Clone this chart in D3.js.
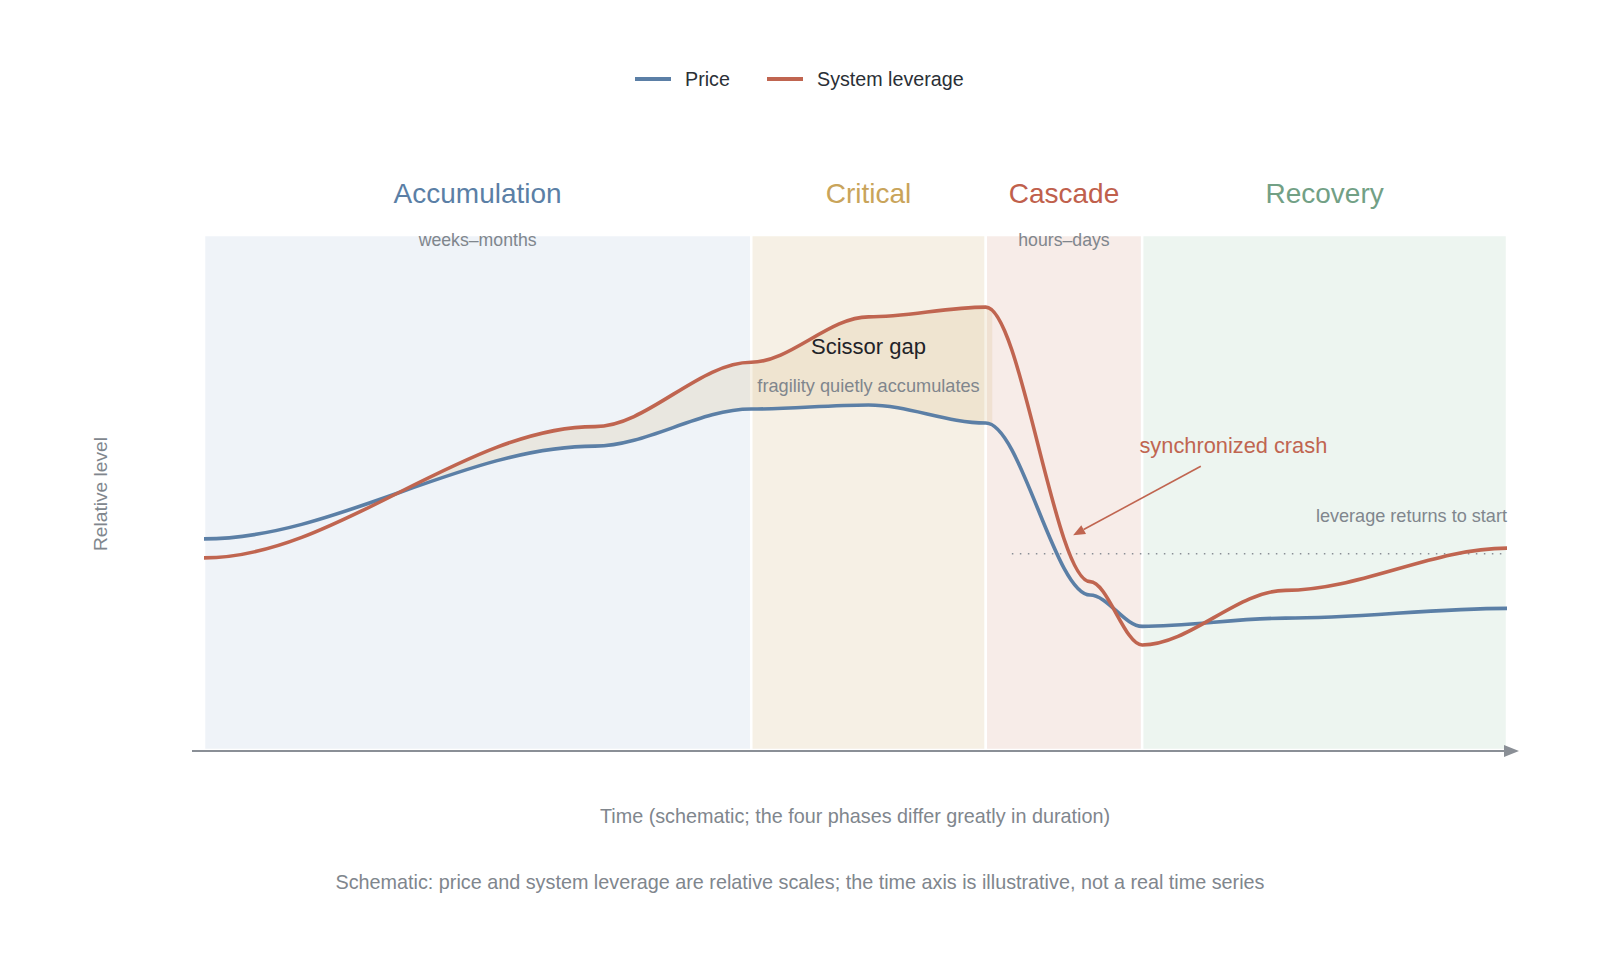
<!DOCTYPE html>
<html>
<head>
<meta charset="utf-8">
<script src="https://cdn.jsdelivr.net/npm/d3@7/dist/d3.min.js"></script>
<style>
  html, body { margin: 0; padding: 0; background: #fff; }
  svg { display: block; font-family: "Helvetica Neue", Helvetica, Arial, "Liberation Sans", sans-serif; }
</style>
</head>
<body>
<svg id="chart" width="1600" height="978"></svg>
<script>
// ---- data ----
const phaseNames = ["Accumulation", "Critical", "Cascade", "Recovery"];
const phaseStart = [0, 42, 60, 72];
const phaseEnd = [42, 60, 72, 100];
const phaseSub = ["weeks–months", "", "hours–days", ""];
const phaseColors = ["#5b7fa6", "#c9a45a", "#c0604c", "#72a085"];
const phaseFills = ["#eff3f8", "#f6f0e5", "#f7ece8", "#edf5f0"];

const time = [0, 30, 42, 51, 60, 68, 72, 83, 100];
const price = [41, 59, 66.2, 67, 63.5, 30.1, 24, 25.6, 27.5];
const leverage = [37.3, 62.8, 75.3, 84.1, 86, 32.7, 20.4, 31, 39.2];
const seriesNames = ["Price", "System leverage"];
const seriesColors = ["#5b7fa6", "#c06550"];

const gapRange = [14.7, 60.5];
const startLevel = 38.1;
const returnLineStart = 62;

// ---- smooth curve with flat tangents at each point (cubic Hermite, zero slopes) ----
function FlatHermite(context) { this._context = context; }
FlatHermite.prototype = {
  areaStart() { this._line = 0; },
  areaEnd() { this._line = NaN; },
  lineStart() { this._point = 0; },
  lineEnd() {
    if (this._line || (this._line !== 0 && this._point === 1)) this._context.closePath();
    this._line = 1 - this._line;
  },
  point(px, py) {
    px = +px; py = +py;
    if (this._point === 0) {
      this._point = 1;
      if (this._line) this._context.lineTo(px, py); else this._context.moveTo(px, py);
    } else {
      this._point = 2;
      const dx = (px - this._x0) / 3;
      this._context.bezierCurveTo(this._x0 + dx, this._y0, px - dx, py, px, py);
    }
    this._x0 = px; this._y0 = py;
  }
};
const curveFlat = ctx => new FlatHermite(ctx);

// ---- layout ----
const svg = d3.select("#chart");
const x = d3.scaleLinear().domain([0, 100]).range([204, 1507]);
const y = d3.scaleLinear().domain([0, 100]).range([750, 235]);
const grey = "#80868d";

// phase backgrounds
phaseNames.forEach((name, i) => {
  svg.append("rect")
    .attr("x", x(phaseStart[i])).attr("y", y(100))
    .attr("width", x(phaseEnd[i]) - x(phaseStart[i]))
    .attr("height", y(0) - y(100))
    .attr("fill", phaseFills[i])
    .attr("stroke", "#fff").attr("stroke-width", 2.5);
  const cx = x((phaseStart[i] + phaseEnd[i]) / 2);
  svg.append("text").attr("x", cx).attr("y", 193)
    .attr("text-anchor", "middle").attr("dominant-baseline", "central")
    .attr("font-size", 28).attr("fill", phaseColors[i]).text(name);
  if (phaseSub[i]) {
    svg.append("text").attr("x", cx).attr("y", 240)
      .attr("text-anchor", "middle").attr("dominant-baseline", "central")
      .attr("font-size", 17.7).attr("fill", grey).text(phaseSub[i]);
  }
});

const rows = time.map((t, i) => ({ t, p: price[i], l: leverage[i] }));

// scissor gap fill
svg.append("clipPath").attr("id", "gapclip").append("rect")
  .attr("x", x(gapRange[0])).attr("y", 0)
  .attr("width", x(gapRange[1]) - x(gapRange[0])).attr("height", 978);
svg.append("path")
  .datum(rows)
  .attr("clip-path", "url(#gapclip)")
  .attr("fill", "rgba(205,170,100,0.16)")
  .attr("d", d3.area().x(d => x(d.t)).y0(d => y(d.p)).y1(d => y(d.l)).curve(curveFlat));

// dotted "returns to start" line
svg.append("line")
  .attr("x1", x(returnLineStart)).attr("x2", x(100))
  .attr("y1", y(startLevel)).attr("y2", y(startLevel))
  .attr("stroke", "#8a8f96").attr("stroke-width", 1.5)
  .attr("stroke-dasharray", "1.5,6.5");

// lines
const lineGen = key => d3.line().x(d => x(d.t)).y(d => y(d[key])).curve(curveFlat);
svg.append("path").datum(rows).attr("fill", "none")
  .attr("stroke", seriesColors[0]).attr("stroke-width", 3.6)
  .attr("d", lineGen("p"));
svg.append("path").datum(rows).attr("fill", "none")
  .attr("stroke", seriesColors[1]).attr("stroke-width", 3.6)
  .attr("d", lineGen("l"));

// x axis with arrow
svg.append("line").attr("x1", 192).attr("x2", 1508)
  .attr("y1", 751).attr("y2", 751)
  .attr("stroke", "#8a8f96").attr("stroke-width", 2);
svg.append("path").attr("d", "M1504,745 L1519,751 L1504,757 Z").attr("fill", "#8a8f96");

// annotations
svg.append("text").attr("x", x(51)).attr("y", y(78.3))
  .attr("text-anchor", "middle").attr("dominant-baseline", "central")
  .attr("font-size", 22).attr("fill", "#1f2328").text("Scissor gap");
svg.append("text").attr("x", x(51)).attr("y", y(70.7))
  .attr("text-anchor", "middle").attr("dominant-baseline", "central")
  .attr("font-size", 18.2).attr("fill", grey).text("fragility quietly accumulates");

svg.append("text").attr("x", x(79)).attr("y", y(59.2))
  .attr("text-anchor", "middle").attr("dominant-baseline", "central")
  .attr("font-size", 21.8).attr("fill", seriesColors[1]).text("synchronized crash");
// arrow
const ax0 = x(76.5), ay0 = y(55.1), ax1 = x(66.7), ay1 = y(41.7);
const ang = Math.atan2(ay1 - ay0, ax1 - ax0);
const hl = 12, hw = 5;
const bx = ax1 - hl * Math.cos(ang), by = ay1 - hl * Math.sin(ang);
svg.append("line").attr("x1", ax0).attr("y1", ay0).attr("x2", bx).attr("y2", by)
  .attr("stroke", seriesColors[1]).attr("stroke-width", 1.6);
svg.append("path")
  .attr("d", `M${ax1},${ay1} L${bx + hw * Math.sin(ang)},${by - hw * Math.cos(ang)} L${bx - hw * Math.sin(ang)},${by + hw * Math.cos(ang)} Z`)
  .attr("fill", seriesColors[1]);

svg.append("text").attr("x", x(100)).attr("y", y(45.4))
  .attr("text-anchor", "end").attr("dominant-baseline", "central")
  .attr("font-size", 18.1).attr("fill", grey).text("leverage returns to start");

// axis titles
svg.append("text").attr("x", 855).attr("y", 816)
  .attr("text-anchor", "middle").attr("dominant-baseline", "central")
  .attr("font-size", 19.8).attr("fill", grey)
  .text("Time (schematic; the four phases differ greatly in duration)");
svg.append("text").attr("transform", "translate(100,494) rotate(-90)")
  .attr("text-anchor", "middle").attr("dominant-baseline", "central")
  .attr("font-size", 19.2).attr("fill", grey).text("Relative level");

// footer
svg.append("text").attr("x", 800).attr("y", 882)
  .attr("text-anchor", "middle").attr("dominant-baseline", "central")
  .attr("font-size", 19.8).attr("fill", grey)
  .text("Schematic: price and system leverage are relative scales; the time axis is illustrative, not a real time series");

// legend
const legX = [635, 767];
seriesNames.forEach((n, i) => {
  svg.append("line").attr("x1", legX[i]).attr("x2", legX[i] + 36)
    .attr("y1", 79).attr("y2", 79)
    .attr("stroke", seriesColors[i]).attr("stroke-width", 4);
  svg.append("text").attr("x", legX[i] + 50).attr("y", 78.5)
    .attr("dominant-baseline", "central")
    .attr("font-size", 19.7).attr("fill", "#2a2f36").text(n);
});
</script>
</body>
</html>
